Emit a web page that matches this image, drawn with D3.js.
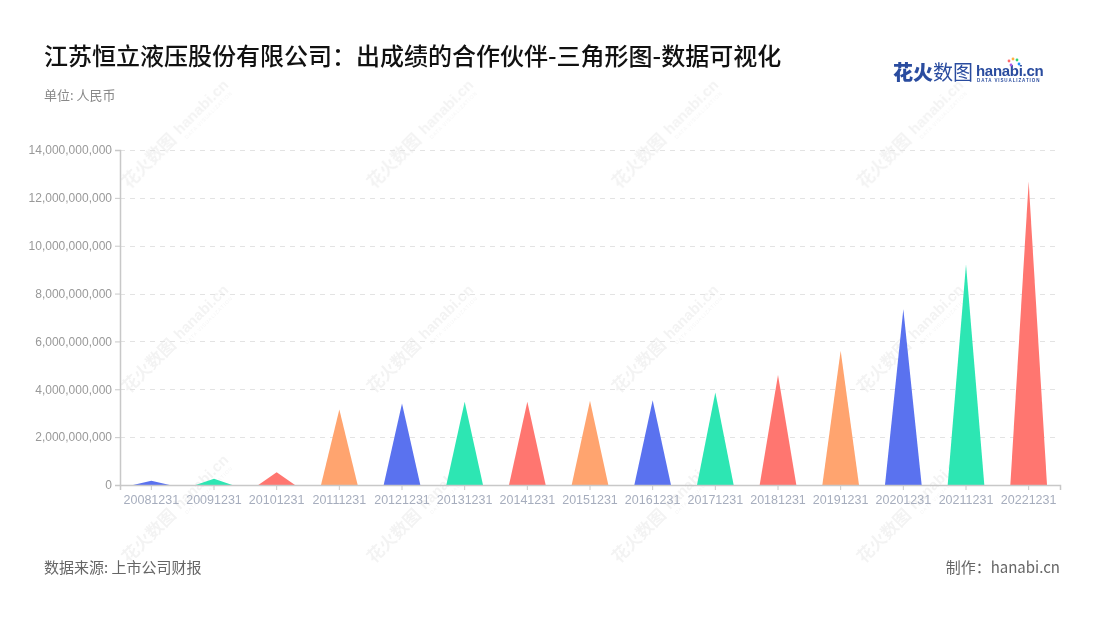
<!DOCTYPE html>
<html>
<head>
<meta charset="utf-8">
<script src="https://cdn.jsdelivr.net/npm/d3@7"></script>
<style>
  html, body { margin: 0; padding: 0; background: #fff; }
  svg { display: block; }
</style>
</head>
<body>
<svg id="chart" width="1100" height="620"></svg>
<script>
const categories = ["20081231","20091231","20101231","20111231","20121231","20131231","20141231","20151231","20161231","20171231","20181231","20191231","20201231","20211231","20221231"];
const values = [0.18e9, 0.26e9, 0.53e9, 3.16e9, 3.41e9, 3.48e9, 3.48e9, 3.52e9, 3.54e9, 3.87e9, 4.60e9, 5.61e9, 7.34e9, 9.22e9, 12.67e9];
const yTicks = [0, 2e9, 4e9, 6e9, 8e9, 10e9, 12e9, 14e9];
const palette = ["#5a72ef", "#2de6b3", "#ff7670", "#ffa46f"];
const titleText = "江苏恒立液压股份有限公司：出成绩的合作伙伴-三角形图-数据可视化";
const unitText = "单位: 人民币";
const sourceText = "数据来源: 上市公司财报";
const makerText = "制作：hanabi.cn";

(function () {
const svg = d3.select("#chart");
const cjk = "'Noto Sans CJK SC', 'Noto Sans', sans-serif";
const latin = "'Liberation Sans', Arial, sans-serif";

const pLeft = 120, pRight = 1060, pTop = 150, pBottom = 485;

// watermarks
const wm = svg.append("g").attr("opacity", 0.05);
[129, 374, 619, 864].forEach(wx => {
  [189, 394, 564].forEach(wy => {
    const g = wm.append("g").attr("transform", `translate(${wx},${wy}) rotate(-45)`);
    g.append("text").attr("font-family", cjk).attr("font-size", 17).attr("font-weight", 700)
      .attr("fill", "#000").text("花火数图");
    g.append("text").attr("x", 74).attr("y", -2).attr("font-family", latin).attr("font-size", 15).attr("font-weight", 700)
      .attr("fill", "#000").text("hanabi.cn");
    g.append("text").attr("x", 76).attr("y", 6).attr("font-family", latin).attr("font-size", 5)
      .attr("fill", "#000").attr("letter-spacing", 0.8).text("DATA VISUALIZATION");
  });
});

// title
svg.append("text").attr("x", 44).attr("y", 65).attr("font-family", cjk).attr("font-size", 24)
  .attr("font-weight", 500).attr("fill", "#111").text(titleText);
svg.append("text").attr("x", 44).attr("y", 100).attr("font-family", cjk).attr("font-size", 13)
  .attr("fill", "#888").text(unitText);

// logo
const logo = svg.append("g").attr("transform", "translate(893,80)");
logo.append("text").attr("x", 0).attr("y", 0).attr("font-family", cjk).attr("font-size", 20)
  .attr("font-weight", 900).attr("fill", "#2a4c9f").text("花火");
logo.append("text").attr("x", 40).attr("y", 0).attr("font-family", cjk).attr("font-size", 20)
  .attr("font-weight", 400).attr("fill", "#2a4c9f").text("数图");
logo.append("text").attr("x", 83).attr("y", -4).attr("font-family", latin).attr("font-size", 15)
  .attr("font-weight", 700).attr("fill", "#2a4c9f").attr("letter-spacing", -0.3).text("hanabi.cn");
logo.append("text").attr("x", 84).attr("y", 2).attr("font-family", latin).attr("font-size", 4.5)
  .attr("font-weight", 700).attr("fill", "#2a4c9f").attr("letter-spacing", 0.9).text("DATA VISUALIZATION");
[["#ff6b6b",-8,-1],["#ffb142",-4,-3],["#2ed573",0,-2],["#1e90ff",2,2],["#a55eea",-6,3]].forEach(([c,dx,dy]) => {
  logo.append("circle").attr("cx", 124 + dx).attr("cy", -18 + dy).attr("r", 1.4).attr("fill", c);
});

// scales
const x = d3.scaleBand().domain(categories).range([pLeft, pRight]).padding(0);
const y = d3.scaleLinear().domain([0, 14e9]).range([pBottom, pTop]);

// grid
svg.append("g").selectAll("line").data(yTicks.filter(d => d > 0)).join("line")
  .attr("x1", pLeft).attr("x2", pRight)
  .attr("y1", d => Math.round(y(d)) + 0.5).attr("y2", d => Math.round(y(d)) + 0.5)
  .attr("stroke", "#e3e3e3").attr("stroke-width", 1).attr("stroke-dasharray", "5,5");

// triangles
const w = x.step() * 0.585;
svg.append("g").selectAll("path").data(values).join("path")
  .attr("d", (v, i) => {
    const cx = x(categories[i]) + x.bandwidth() / 2;
    return `M${cx - w / 2},${y(0)} L${cx},${y(v)} L${cx + w / 2},${y(0)} Z`;
  })
  .attr("fill", (v, i) => palette[i % 4]);

// y axis
const yAxis = d3.axisLeft(y).tickValues(yTicks).tickSize(5).tickPadding(3)
  .tickFormat(d3.format(","));
const yg = svg.append("g").attr("transform", `translate(${pLeft},0)`).call(yAxis);
yg.select(".domain").attr("stroke", "#c8c8c8").attr("stroke-width", 1.5);
yg.selectAll(".tick line").attr("stroke", "#c8c8c8");
yg.selectAll("text").attr("font-family", latin).attr("font-size", 12).attr("fill", "#999");

// x axis
const xAxis = d3.axisBottom(x).tickSize(5).tickPadding(5);
const xg = svg.append("g").attr("transform", `translate(0,${pBottom})`).call(xAxis);
xg.select(".domain").attr("stroke", "#c8c8c8").attr("stroke-width", 1.5);
xg.selectAll(".tick line").attr("stroke", "#c8c8c8");
xg.selectAll("text").attr("font-family", latin).attr("font-size", 12.5).attr("fill", "#a6adbd");

// footer
svg.append("text").attr("x", 44).attr("y", 573).attr("font-family", cjk).attr("font-size", 15)
  .attr("fill", "#666").text(sourceText);
svg.append("text").attr("x", 1060).attr("y", 573).attr("text-anchor", "end").attr("font-family", cjk)
  .attr("font-size", 15).attr("fill", "#666").text(makerText);
})();
</script>
</body>
</html>
